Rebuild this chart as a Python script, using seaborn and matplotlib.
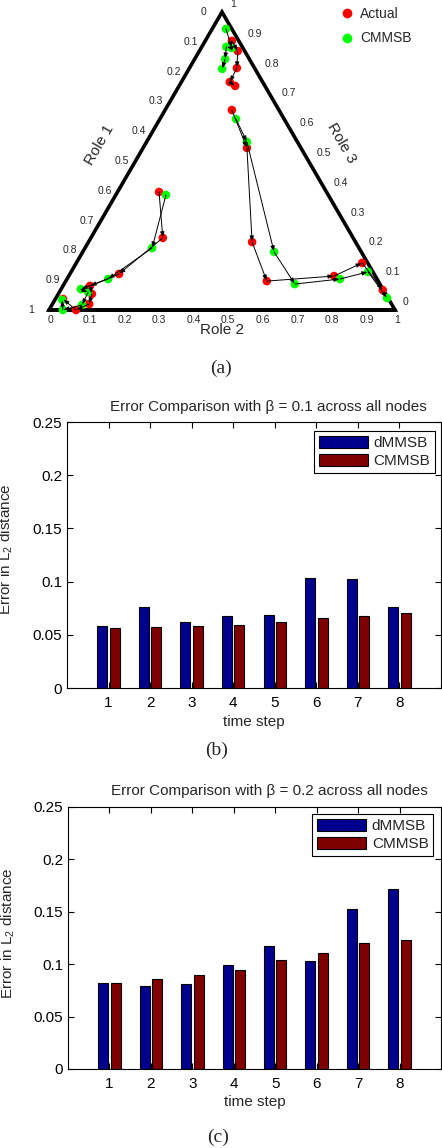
import numpy as np
import pandas as pd
import matplotlib
matplotlib.use("Agg")
import matplotlib.pyplot as plt
import seaborn as sns
from matplotlib.lines import Line2D

# ---------------- data ----------------
# ternary trajectories: (Role 2, Role 3) fractions; Role 1 = 1 - r2 - r3
top_actual_r2 = [0.077, 0.111, 0.137, 0.140, 0.162]
top_actual_r3 = [0.903, 0.869, 0.812, 0.765, 0.752]
top_cmmsb_r2 = [0.040, 0.089, 0.071, 0.088, 0.096]
top_cmmsb_r3 = [0.943, 0.879, 0.883, 0.842, 0.809]

right_actual_r2 = [0.193, 0.300, 0.473, 0.581, 0.767, 0.826, 0.931]
right_actual_r3 = [0.671, 0.544, 0.228, 0.097, 0.114, 0.158, 0.067]
right_cmmsb_r2 = [0.220, 0.290, 0.553, 0.667, 0.789, 0.858, 0.957]
right_cmmsb_r3 = [0.641, 0.564, 0.195, 0.087, 0.104, 0.128, 0.040]

left_actual_r2 = [0.120, 0.208, 0.142, 0.078, 0.097, 0.106, 0.078, 0.022]
left_actual_r3 = [0.396, 0.242, 0.121, 0.081, 0.054, 0.020, 0.000, 0.037]
left_cmmsb_r2 = [0.145, 0.194, 0.119, 0.057, 0.083, 0.087, 0.040, 0.021]
left_cmmsb_r3 = [0.386, 0.208, 0.104, 0.070, 0.060, 0.017, 0.000, 0.034]

tern_ticks = [0, 0.1, 0.2, 0.3, 0.4, 0.5, 0.6, 0.7, 0.8, 0.9, 1]

steps = ["1", "2", "3", "4", "5", "6", "7", "8"]
b_dmmsb = [0.0586, 0.0764, 0.0623, 0.0680, 0.0689, 0.1037, 0.1028, 0.0764]
b_cmmsb = [0.0567, 0.0576, 0.0586, 0.0595, 0.0623, 0.0661, 0.0680, 0.0708]
c_dmmsb = [0.0822, 0.0793, 0.0812, 0.0993, 0.1174, 0.1031, 0.1526, 0.1716]
c_cmmsb = [0.0822, 0.0857, 0.0895, 0.0945, 0.1041, 0.1107, 0.1202, 0.1231]
yticks = [0, 0.05, 0.1, 0.15, 0.2, 0.25]
ytick_labels = ["0", "0.05", "0.1", "0.15", "0.2", "0.25"]

# ---------------- style ----------------
sns.set_style("ticks")
plt.rcParams["font.family"] = ["Liberation Sans", "DejaVu Sans"]
plt.rcParams["mathtext.fontset"] = "custom"
plt.rcParams["mathtext.rm"] = "Liberation Sans"
plt.rcParams["mathtext.it"] = "Liberation Sans:italic"

W, Hpx = 442, 1148
fig = plt.figure(figsize=(W / 100, Hpx / 100), dpi=100)
H = np.sqrt(3) / 2


def tern(r2, r3):
    r2 = np.asarray(r2, float)
    r3 = np.asarray(r3, float)
    return r2 + r3 / 2, r3 * H


# ---------------- (a) ternary ----------------
axa = fig.add_axes([49 / W, 1 - 310 / Hpx, 346 / W, 298 / Hpx])
axa.set_xlim(0, 1)
axa.set_ylim(0, H)
axa.axis("off")
axa.plot([0, 1, 0.5, 0, 1], [0, 0, H, 0, 0], color="k", lw=2.6,
         solid_joinstyle="miter", clip_on=False, zorder=1)

paths = [
    (top_actual_r2, top_actual_r3, "Actual"),
    (top_cmmsb_r2, top_cmmsb_r3, "CMMSB"),
    (right_actual_r2, right_actual_r3, "Actual"),
    (right_cmmsb_r2, right_cmmsb_r3, "CMMSB"),
    (left_actual_r2, left_actual_r3, "Actual"),
    (left_cmmsb_r2, left_cmmsb_r3, "CMMSB"),
]
rows = []
for r2, r3, lab in paths:
    x, y = tern(r2, r3)
    for xi, yi in zip(x, y):
        rows.append({"x": xi, "y": yi, "series": lab})
dfa = pd.DataFrame(rows)
sns.scatterplot(data=dfa, x="x", y="y", hue="series",
                palette={"Actual": "#ff0000", "CMMSB": "#00ff00"},
                s=38, linewidth=0, legend=False, ax=axa, zorder=2, clip_on=False)
axa.set_xlabel("")
axa.set_ylabel("")

for r2, r3, lab in paths:
    x, y = tern(r2, r3)
    for i in range(len(x) - 1):
        axa.annotate("", xy=(x[i + 1], y[i + 1]), xytext=(x[i], y[i]),
                     arrowprops=dict(arrowstyle="-|>,head_length=0.5,head_width=0.2",
                                     color="k", lw=0.7, shrinkA=0, shrinkB=0.5,
                                     mutation_scale=6), zorder=3)

tfs = 7.5
for v in tern_ticks:
    lab = f"{v:g}"
    # Role 2 (bottom)
    axa.annotate(lab, xy=(v, 0), xytext=(-1, -5), textcoords="offset pixels",
                 ha="left", va="top", fontsize=tfs, annotation_clip=False)
    # Role 1 (left edge), 0 at top
    x, y = tern(0, 1 - v)
    axa.annotate(lab, xy=(x, y), xytext=(-21, 0), textcoords="offset pixels",
                 ha="left", va="center", fontsize=tfs, annotation_clip=False)
    # Role 3 (right edge), 1 at top
    x, y = tern(1 - v, v)
    axa.annotate(lab, xy=(x, y), xytext=(8, 8), textcoords="offset pixels",
                 ha="left", va="center", fontsize=tfs, annotation_clip=False)

fig.text(222 / W, 1 - 330 / Hpx, "Role 2", ha="center", va="center", fontsize=11)
fig.text(100 / W, 1 - 145 / Hpx, "Role 1", ha="center", va="center", fontsize=11,
         rotation=60)
fig.text(341 / W, 1 - 143 / Hpx, "Role 3", ha="center", va="center", fontsize=11,
         rotation=-60)

leg_handles = [Line2D([], [], ls="none", marker="o", ms=7, mfc="#ff0000", mec="none"),
               Line2D([], [], ls="none", marker="o", ms=7, mfc="#00ff00", mec="none")]
fig.legend(leg_handles, ["Actual", "CMMSB"], loc="upper left",
           bbox_to_anchor=(340 / W, 1 - 7 / Hpx), bbox_transform=fig.transFigure,
           frameon=False, fontsize=10, handlelength=1.0, handletextpad=0.45,
           labelspacing=0.75, borderpad=0, borderaxespad=0)

fig.text(221 / W, 1 - 368 / Hpx, "(a)", ha="center", va="center", fontsize=14,
         family="Liberation Serif")

# ---------------- bar charts ----------------
blue = "#00008f"
red = "#800000"


def bar_panel(rect, dvals, cvals, title, beta_title_y_px, legend_anchor, title_x):
    ax = fig.add_axes(rect)
    df = pd.DataFrame({
        "step": steps + steps,
        "error": dvals + cvals,
        "method": ["dMMSB"] * len(steps) + ["CMMSB"] * len(steps),
    })
    sns.barplot(data=df, x="step", y="error", hue="method", order=steps,
                hue_order=["dMMSB", "CMMSB"], palette=[blue, red], saturation=1,
                width=0.6, gap=0.2, edgecolor="k", linewidth=0.8,
                errorbar=None, ax=ax)
    ax.set_xlim(-1, 8)
    ax.set_ylim(0, 0.25)
    ax.set_yticks(yticks)
    ax.set_yticklabels(ytick_labels)
    ax.tick_params(axis="both", direction="in", top=True, right=True, length=4,
                   width=0.8, labelsize=11, color="k", labelcolor="k")
    ax.tick_params(axis="x", pad=6)
    ax.tick_params(axis="y", pad=3.5)
    for sp in ax.spines.values():
        sp.set_visible(True)
        sp.set_color("k")
        sp.set_linewidth(0.8)
    ax.set_xlabel("time step", fontsize=11)
    ax.xaxis.set_label_coords(0.5, -0.10)
    ax.set_ylabel("Error in L$_2$ distance", fontsize=11)
    ax.yaxis.set_label_coords(-0.138, 0.52)
    ax.text(title_x, 1 + beta_title_y_px / (rect[3] * Hpx), title,
            transform=ax.transAxes, ha="center", va="baseline", fontsize=11)
    leg = ax.legend(loc="upper right", bbox_to_anchor=legend_anchor,
                    borderaxespad=0, fancybox=False, edgecolor="k", framealpha=1,
                    fontsize=11, handlelength=3.2, handleheight=0.9,
                    handletextpad=0.4, labelspacing=0.22, borderpad=0.3)
    leg.get_frame().set_linewidth(0.8)
    return ax


bar_panel([67 / W, 1 - 688 / Hpx, 374 / W, 266 / Hpx], b_dmmsb, b_cmmsb,
          "Error Comparison with β = 0.1 across all nodes", 11.5,
          (0.984, 0.966), 0.539)
fig.text(217 / W, 1 - 750 / Hpx, "(b)", ha="center", va="center", fontsize=14,
         family="Liberation Serif")

bar_panel([68 / W, 1 - 1069 / Hpx, 373 / W, 262 / Hpx], c_dmmsb, c_cmmsb,
          "Error Comparison with β = 0.2 across all nodes", 11.5,
          (0.979, 0.973), 0.539)
fig.text(218 / W, 1 - 1137 / Hpx, "(c)", ha="center", va="center", fontsize=14,
         family="Liberation Serif")

fig.savefig("out.png", dpi=100)
